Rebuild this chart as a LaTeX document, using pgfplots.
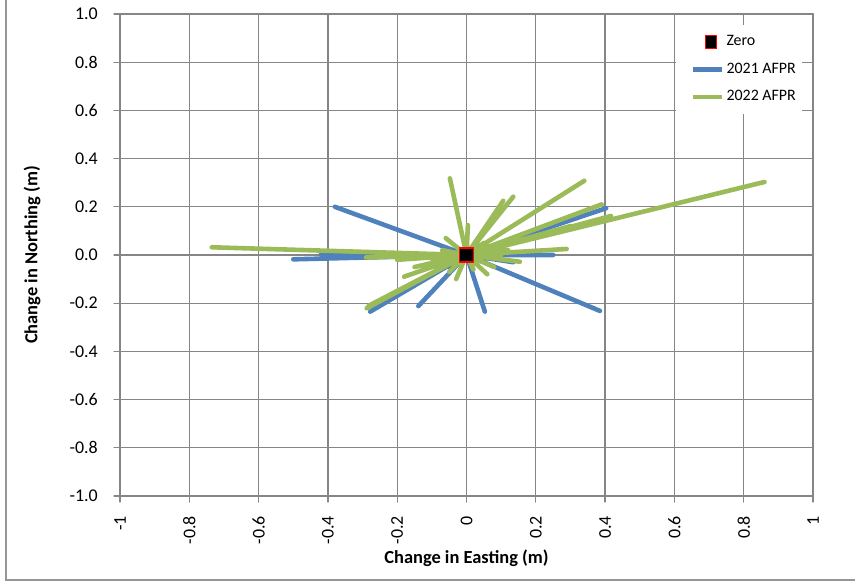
\documentclass[border=0pt]{standalone}
\usepackage{pgfplots}
\pgfplotsset{compat=1.18}
\usepackage{fontspec}
\setmainfont{Carlito}
\definecolor{gridc}{RGB}{134,134,134}
\definecolor{framec}{RGB}{150,150,150}
\definecolor{blue21}{RGB}{79,129,189}
\definecolor{green22}{RGB}{155,187,89}
\newcommand{\lf}{\fontsize{16}{18}\selectfont}
\pgfplotsset{
  lineleg/.style={legend image code/.code={\path[draw=none, fill=none] (0bp,-1bp) rectangle (44bp,1bp); \draw[##1] (13bp,0bp) -- (42bp,0bp);}},
  markleg/.style={legend image code/.code={\path[draw=none, fill=none] (0bp,-1bp) rectangle (44bp,1bp); \node[draw=red, fill=black, line width=1.2bp, minimum size=11bp, inner sep=0pt] at (25bp,0bp) {};}},
}
\begin{document}
\begin{tikzpicture}[x=1bp,y=1bp]
\useasboundingbox (0,0) rectangle (855,582);
\draw[framec, line width=1.5bp] (6,590) -- (6,2) -- (860,2);
\begin{axis}[
  at={(120bp,86bp)}, anchor=south west,
  scale only axis, width=693bp, height=482bp,
  xmin=-1, xmax=1, ymin=-1, ymax=1,
  xtick={-1,-0.8,-0.6,-0.4,-0.2,0,0.2,0.4,0.6,0.8,1},
  ytick={-1,-0.8,-0.6,-0.4,-0.2,0,0.2,0.4,0.6,0.8,1},
  /pgf/number format/assume math mode=true,
  yticklabel={\pgfmathprintnumber[fixed,fixed zerofill,precision=1]{\tick}},
  grid=major,
  major grid style={gridc, line width=1.3bp},
  axis line style={gridc, line width=1.3bp},
  tick style={gridc, line width=1.3bp},
  tick align=outside, major tick length=6bp, tick pos=left,
  ticklabel style={font=\fontsize{18}{20}\selectfont, inner sep=0pt},
  yticklabel shift=16bp,
  xticklabel style={rotate=90, anchor=east},
  xticklabel shift=14bp,
  label style={font=\bfseries\fontsize{18.5}{21}\selectfont},
  xlabel={Change in Easting (m)},
  ylabel={Change in Northing (m)},
  xlabel style={at={(axis description cs:0.5,-0.13)}, anchor=center},
  ylabel style={at={(axis description cs:-0.127,0.5)}, anchor=center},
  legend cell align=left,
  legend style={at={(axis description cs:0.8023,0.9772)}, anchor=north west,
    draw=none, fill=white,
    inner xsep=4bp, inner ysep=8.5bp, row sep=10.5bp, column sep=0bp,
    nodes={text height=10bp, text depth=3bp, inner sep=2bp}},
  line cap=round, line join=round,
]
\addlegendimage{markleg}
\addlegendentry{\lf Zero}
\addplot[blue21, line width=4.6bp, no markers, lineleg]
  coordinates {(0,0) (-0.38,0.2) (0,0) (-0.5,-0.018) (0,0) (-0.42,0.003) (0,0) (-0.278,-0.235) (0,0) (-0.139,-0.212) (0,0) (0.053,-0.235) (0,0) (0.385,-0.232) (0,0) (0.403,0.194) (0,0) (0.40,0.15) (0,0) (0.25,0.0) (0,0) (0.135,-0.03) (0,0) (0.03,0.06) (0,0) (-0.05,-0.05) (0,0)};
\addlegendentry{\lf 2021 AFPR}
\addplot[green22, line width=4.6bp, no markers, lineleg]
  coordinates {(0,0) (0.86,0.303) (0,0) (-0.735,0.032) (0,0) (-0.29,-0.01) (0,0) (-0.288,-0.221) (0,0) (-0.283,-0.212) (0,0) (-0.275,-0.205) (0,0) (-0.048,0.318) (0,0) (0.004,0.124) (0,0) (0.106,0.225) (0,0) (0.135,0.242) (0,0) (0.34,0.308) (0,0) (0.39,0.21) (0,0) (0.417,0.162) (0,0) (0.289,0.025) (0,0) (0.154,-0.028) (0,0) (-0.15,-0.05) (0,0) (0.05,0.05) (0,0) (-0.1,-0.03) (0,0) (0.2,0.08) (0,0) (0.12,0.02) (0,0) (0.08,-0.05) (0,0) (-0.05,-0.07) (0,0) (0.02,-0.06) (0,0) (-0.2,-0.02) (0,0) (0.3,0.12) (0,0) (-0.07,0.02) (0,0) (0.07,0.03) (0,0) (-0.03,-0.1) (0,0) (0.06,-0.08) (0,0) (-0.12,0.0) (0,0) (0.1,0.0) (0,0) (-0.06,0.07) (0,0) (-0.18,-0.09) (0,0)};
\addlegendentry{\lf 2022 AFPR}
\addplot[forget plot, only marks, mark=square*, mark size=7bp, mark options={draw=red, fill=black, line width=1.2bp}]
  coordinates {(0,0)};
\end{axis}
\end{tikzpicture}
\end{document}
